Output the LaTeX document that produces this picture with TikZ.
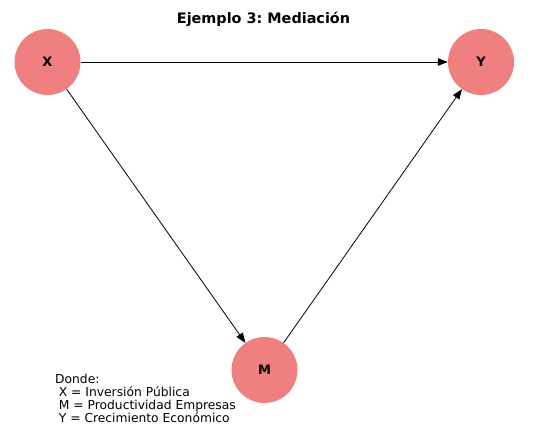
\documentclass[tikz,border=0pt]{standalone}
\usepackage{fontspec}
\setmainfont{DejaVu Sans}
\usetikzlibrary{arrows.meta}
\frenchspacing
\definecolor{nodefill}{RGB}{240,128,128}
\tikzset{
  var/.style={circle, fill=nodefill, minimum size=66pt, inner sep=0pt, font=\fontsize{13}{15}\selectfont\bfseries},
  edge/.style={draw=black, line width=0.8pt, -{Triangle[length=10pt,width=7.5pt]}},
  legend/.style={anchor=base west, inner sep=0pt, font=\fontsize{12.3}{13}\selectfont},
  titletext/.style={anchor=base, inner sep=0pt, font=\fontsize{14.4}{17}\selectfont\bfseries}
}
\begin{document}
\begin{tikzpicture}[x=1pt, y=-1pt]
\useasboundingbox (0,0) rectangle (540,437);
\node[titletext] (title) at (263.5,23.4) {Ejemplo 3: Mediación};
\node[var] (X) at (47.5,62) {X};
\node[var] (Y) at (481,62) {Y};
\node[var] (M) at (264.5,370) {M};
\draw[edge] (X) -- (Y);
\draw[edge] (X) -- (M);
\draw[edge] (M) -- (Y);
\node[legend] (l0) at (55,383.3) {Donde:};
\node[legend] (l1) at (55,396.3) {\hspace*{0.3em}X = Inversión Pública};
\node[legend] (l2) at (55,409.3) {\hspace*{0.3em}M = Productividad Empresas};
\node[legend] (l3) at (55,422.3) {\hspace*{0.3em}Y = Crecimiento Económico};
\end{tikzpicture}
\end{document}
